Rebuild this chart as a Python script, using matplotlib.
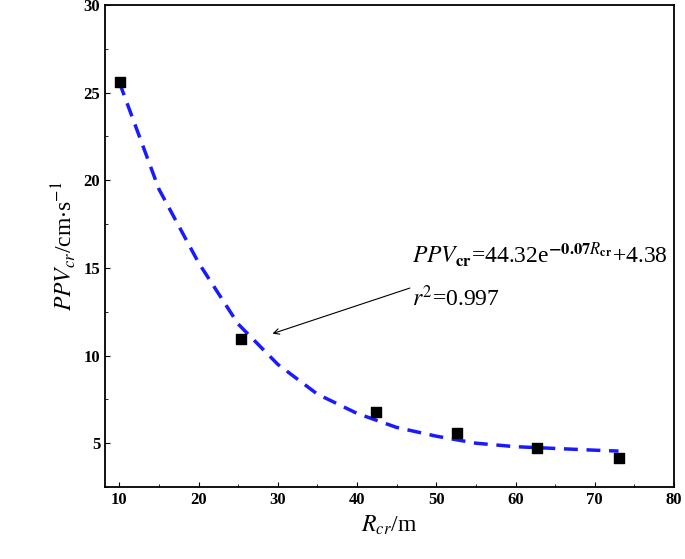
import matplotlib
matplotlib.use("Agg")
import matplotlib.pyplot as plt
from matplotlib.ticker import MultipleLocator
plt.rcParams["mathtext.fontset"] = "stix"

pts_x = [10.1, 25.4, 42.4, 52.6, 62.7, 73.0]
pts_y = [25.6, 10.95, 6.8, 5.6, 4.75, 4.15]
fit_x = [10, 15, 20, 25, 30, 35, 40, 45, 50, 55, 60, 65, 70, 73]
fit_y = [25.6, 19.5, 15.3, 11.8, 9.5, 7.8, 6.7, 5.9, 5.4, 5.0, 4.8, 4.7, 4.6, 4.55]
xticks = [10, 20, 30, 40, 50, 60, 70, 80]
yticks = [5, 10, 15, 20, 25, 30]

fig = plt.figure(figsize=(6.85, 5.59), dpi=100)
ax = fig.add_axes([105/685, 72/559, 569/685, 482/559])
ax.plot(fit_x, fit_y, color="#1a1aff", lw=2.5, ls=(0, (4, 2.5)))
ax.scatter(pts_x, pts_y, marker="s", s=50, color="black", zorder=3)
ax.set_xlim(8.2, 80)
ax.set_ylim(2.5, 30)
ax.set_xticks(xticks)
ax.set_yticks(yticks)
ax.xaxis.set_minor_locator(MultipleLocator(5))
ax.yaxis.set_minor_locator(MultipleLocator(2.5))
ax.tick_params(direction="in", labelsize=12)
ax.tick_params(which="minor", direction="in", length=2.5)
for l in ax.get_xticklabels() + ax.get_yticklabels():
    l.set_fontfamily("Liberation Serif")
    l.set_fontweight("bold")
for s in ax.spines.values():
    s.set_linewidth(1.3)
ax.set_xlabel(r"$R_{cr}$/m", fontsize=17, family="Liberation Serif")
ax.set_ylabel(r"$PPV_{cr}$/cm$\cdot$s$^{-1}$", fontsize=17, family="Liberation Serif")
ax.text(47, 15.3, r"$PPV_{\mathbf{cr}}$=44.32e$^{\mathbf{-0.07}R_{\mathbf{cr}}}$+4.38",
        fontsize=17, family="Liberation Serif")
ax.text(47, 12.8, r"$r^2$=0.997", fontsize=17, family="Liberation Serif")
ax.annotate("", xy=(29, 11.2), xytext=(47, 13.9),
            arrowprops=dict(arrowstyle="->", color="black", lw=0.8))
fig.savefig("out.png")
